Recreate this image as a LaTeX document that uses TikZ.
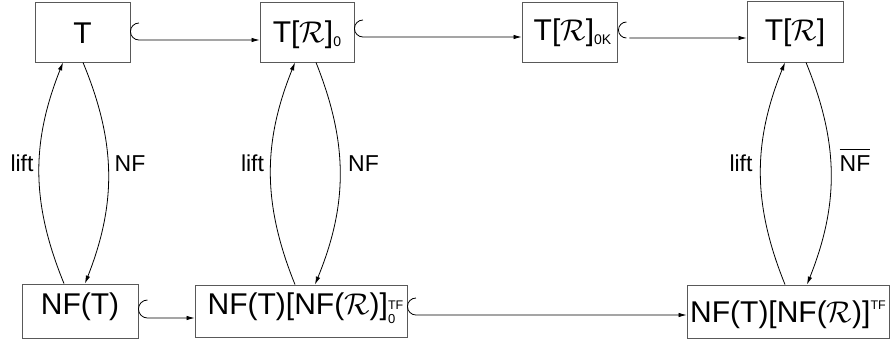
\RequirePackage{fix-cm}
\documentclass[tikz,border=0pt]{standalone}
\usepackage{fontspec}
\setmainfont{Liberation Sans}
\usetikzlibrary{arrows.meta,calc}
\newcommand\RR{$\mathcal{R}$}
\newcommand\bsub[1]{\raisebox{-4.5pt}{\fontsize{14}{14}\selectfont #1}}
\newcommand\bss[2]{\makebox[0pt][l]{\raisebox{-9pt}{\fontsize{13}{13}\selectfont #2}}\raisebox{5pt}{\fontsize{12.5}{12.5}\selectfont #1}}
\newcommand\bsup[1]{\raisebox{13pt}{\fontsize{12.5}{12.5}\selectfont #1}}
\newcommand\ovl[1]{\setbox0\hbox{#1}\rlap{\rule[21pt]{\wd0}{0.9pt}}\box0}
\tikzset{
  box/.style={draw=black!65, line width=0.9pt, inner sep=0pt, text depth=0pt,
              font=\fontsize{30}{36}\selectfont},
  conn/.style={line width=0.8pt, -{Latex[length=8pt,width=4.5pt]}},
  lbl/.style={font=\fontsize{23}{28}\selectfont, anchor=base, inner sep=0pt}
}
\begin{document}
\begin{tikzpicture}[x=1pt,y=-1pt]
\useasboundingbox (0,0) rectangle (892,340);
% boxes
\node[box, minimum width=95pt, minimum height=60pt, text height=22pt] (t) at (82.5,32) {T};
\node[box, minimum width=94pt, minimum height=60pt, text height=20pt] (t0) at (307,32) {T[\RR]\bsub{0}};
\node[box, minimum width=95pt, minimum height=60pt, text height=16pt] (t0k) at (569.5,32) {\hspace*{6pt}T[\RR]\bsub{0K}};
\node[box, minimum width=96pt, minimum height=61pt, text height=17pt] (tr) at (795,31.5) {T[\RR]};
\node[box, minimum width=116pt, minimum height=54pt, text height=6pt] (nft) at (80,311) {NF(T)};
\node[box, minimum width=212pt, minimum height=52pt, text height=6pt] (nfr0) at (301,311) {\hspace*{9pt}NF(T)[NF(\RR)]\bss{TF}{0}};
\node[box, minimum width=202pt, minimum height=53pt, text height=21pt] (nfr) at (788,311.5) {NF(T)[NF(\RR)]\bsup{TF}};
% hooked inclusions
\draw[conn] ($(t.east |- 0,23)+(8.5,0)$) arc[start angle=90,end angle=270,radius=8.5pt] -- (t0.west |- 0,40);
\draw[conn] ($(t0.east |- 0,20)+(8.5,0)$) arc[start angle=90,end angle=270,radius=8.5pt] -- (t0k.west |- 0,37);
\draw[conn] ($(t0k.east |- 0,22)+(9,0)$) arc[start angle=90,end angle=270,radius=8pt] ++(3,0) -- (tr.west |- 0,38);
\draw[conn] ($(nft.east |- 0,300)+(9,0)$) arc[start angle=90,end angle=270,radius=9pt] -- (nfr0.west |- 0,318);
\draw[conn] ($(nfr0.east |- 0,298)+(8.5,0)$) arc[start angle=90,end angle=270,radius=8.5pt] -- (nfr.west |- 0,315);
% vertical arcs
\draw[conn] ([xshift=-16pt]nft.north) to[bend left=22] ([xshift=-19.5pt]t.south);
\draw[conn] ([xshift=0.5pt]t.south) to[bend left=22] ([xshift=5pt]nft.north);
\draw[conn] ([xshift=-6pt]nfr0.north) to[bend left=22] ([xshift=-12pt]t0.south);
\draw[conn] ([xshift=9pt]t0.south) to[bend left=22] ([xshift=14pt]nfr0.north);
\draw[conn] ([xshift=-3pt]nfr.north) to[bend left=22] ([xshift=-10pt]tr.south);
\draw[conn] ([xshift=11pt]tr.south) to[bend left=22] ([xshift=19pt]nfr.north);
% labels
\node[lbl] (l1) at (22,171) {lift};
\node[lbl] (n1) at (130,171) {NF};
\node[lbl] (l2) at (252.5,171) {lift};
\node[lbl] (n2) at (363.5,171) {NF};
\node[lbl] (l3) at (741,171) {lift};
\node[lbl] (n3) at (855,171) {\ovl{NF}};
\end{tikzpicture}
\end{document}
